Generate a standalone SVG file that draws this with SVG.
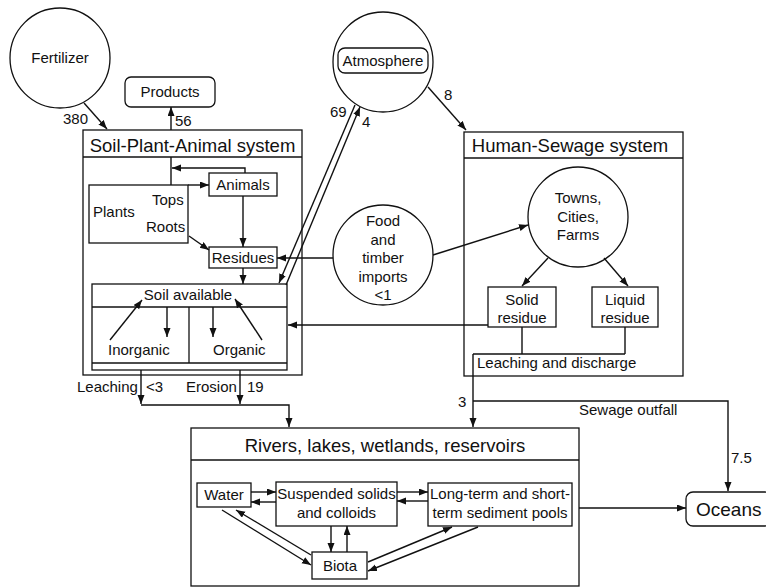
<svg xmlns="http://www.w3.org/2000/svg" width="766" height="588" viewBox="0 0 766 588">
<style>
.b{fill:none;stroke:#111;stroke-width:1.3}
.l{fill:none;stroke:#111;stroke-width:1.4}
.a{fill:none;stroke:#111;stroke-width:1.4;marker-end:url(#ah)}
text{font-family:"Liberation Sans",Arial,sans-serif;font-size:15px;fill:#111}
.t{font-size:18.5px}
.m{text-anchor:middle}
</style>
<defs>
<marker id="ah" markerUnits="userSpaceOnUse" markerWidth="10" markerHeight="8" refX="9" refY="3.5" orient="auto">
<path d="M0,0 L9,3.5 L0,7 z" fill="#111"/>
</marker>
</defs>
<rect width="766" height="588" fill="#fff"/>

<g id="fertilizer">
<circle class="b" cx="60" cy="58" r="50"/>
<text class="m" x="60" y="63">Fertilizer</text>
</g>
<g id="products">
<rect class="b" x="125" y="77" width="90" height="30" rx="6"/>
<text class="m" x="170" y="97">Products</text>
</g>
<g id="atmosphere">
<circle class="b" cx="383" cy="62" r="50"/>
<rect class="b" x="338" y="48" width="90" height="25" rx="7"/>
<text class="m" x="383" y="66">Atmosphere</text>
</g>
<g id="soil-plant-animal">
<rect class="b" x="83" y="130" width="219" height="245"/>
<line class="b" x1="83" y1="157" x2="302" y2="157"/>
<text class="m t" x="192.5" y="152">Soil-Plant-Animal system</text>
</g>
<g id="plants">
<rect class="b" x="89" y="185" width="99" height="58"/>
<text x="93" y="217">Plants</text>
<text x="152" y="205">Tops</text>
<text x="146" y="232">Roots</text>
</g>
<g id="animals">
<rect class="b" x="209" y="173" width="68" height="23"/>
<text class="m" x="243" y="190">Animals</text>
</g>
<g id="residues">
<rect class="b" x="209" y="247" width="68" height="21"/>
<text class="m" x="243" y="263">Residues</text>
</g>
<g id="soil-available">
<rect class="b" x="92" y="284" width="195" height="86"/>
<line class="b" x1="92" y1="307" x2="287" y2="307"/>
<line class="b" x1="189" y1="307" x2="189" y2="363"/>
<line class="b" x1="92" y1="363" x2="287" y2="363"/>
<text class="m" x="188" y="300">Soil available</text>
<text x="108" y="355">Inorganic</text>
<text x="213" y="355">Organic</text>
</g>
<g id="food">
<circle class="b" cx="383" cy="255" r="50"/>
<text class="m" x="383" y="226">Food</text>
<text class="m" x="383" y="245">and</text>
<text class="m" x="383" y="263">timber</text>
<text class="m" x="383" y="282">imports</text>
<text class="m" x="383" y="300">&lt;1</text>
</g>
<g id="human-sewage">
<rect class="b" x="464" y="132" width="219" height="244"/>
<line class="b" x1="464" y1="158" x2="683" y2="158"/>
<text class="m t" x="570" y="152">Human-Sewage system</text>
</g>
<g id="towns">
<circle class="b" cx="578" cy="217" r="50"/>
<text class="m" x="578" y="203">Towns,</text>
<text class="m" x="578" y="222">Cities,</text>
<text class="m" x="578" y="240">Farms</text>
</g>
<g id="solid-residue">
<rect class="b" x="488" y="287" width="68" height="40"/>
<text class="m" x="522" y="305">Solid</text>
<text class="m" x="522" y="323">residue</text>
</g>
<g id="liquid-residue">
<rect class="b" x="592" y="287" width="66" height="40"/>
<text class="m" x="625" y="305">Liquid</text>
<text class="m" x="625" y="323">residue</text>
</g>
<g id="rivers">
<rect class="b" x="191" y="428" width="388" height="158"/>
<line class="b" x1="191" y1="460" x2="579" y2="460"/>
<text class="m t" x="385" y="452">Rivers, lakes, wetlands, reservoirs</text>
</g>
<g id="water">
<rect class="b" x="197" y="483" width="54" height="24"/>
<text class="m" x="224" y="500">Water</text>
</g>
<g id="suspended">
<rect class="b" x="276" y="482" width="121" height="44"/>
<text class="m" x="336.5" y="499">Suspended solids</text>
<text class="m" x="336.5" y="518">and colloids</text>
</g>
<g id="sediment">
<rect class="b" x="428" y="483" width="144" height="43"/>
<text class="m" x="500" y="499">Long-term and short-</text>
<text class="m" x="500" y="518">term sediment pools</text>
</g>
<g id="biota">
<rect class="b" x="312" y="552" width="55" height="27"/>
<text class="m" x="340" y="571">Biota</text>
</g>
<g id="oceans">
<rect class="b" x="686" y="492" width="86" height="34" rx="7"/>
<text x="696" y="516" style="font-size:19px">Oceans</text>
</g>

<g id="connectors">
<line class="a" x1="84" y1="103" x2="107" y2="129"/>
<line class="a" x1="171" y1="130" x2="171" y2="107"/>
<line class="l" x1="171" y1="157" x2="171" y2="185"/>
<path class="a" d="M245,173 V168 H172"/>
<line class="a" x1="188" y1="185" x2="209" y2="185"/>
<line class="a" x1="243" y1="196" x2="243" y2="247"/>
<line class="a" x1="189" y1="236" x2="209" y2="250"/>
<line class="a" x1="243" y1="268" x2="243" y2="284"/>
<line class="a" x1="110" y1="340" x2="142" y2="300"/>
<line class="a" x1="167" y1="307" x2="167" y2="337"/>
<line class="a" x1="213" y1="307" x2="213" y2="337"/>
<line class="a" x1="262" y1="340" x2="235" y2="299"/>
<line class="a" x1="355" y1="105" x2="279" y2="283"/>
<line class="a" x1="286" y1="285" x2="360" y2="107"/>
<line class="a" x1="428" y1="87" x2="466" y2="130"/>
<line class="a" x1="333" y1="258" x2="277" y2="258"/>
<line class="a" x1="433" y1="255" x2="528" y2="225"/>
<line class="a" x1="548" y1="258" x2="522" y2="286"/>
<line class="a" x1="604" y1="258" x2="628" y2="286"/>
<line class="a" x1="488" y1="325" x2="288" y2="325"/>
<path class="l" d="M522,327 V354 M625,327 V354 M473,354 H625"/>
<line class="a" x1="473" y1="354" x2="473" y2="427"/>
<path class="a" d="M473,401 H728 V491"/>
<line class="a" x1="141" y1="370" x2="141" y2="404"/>
<line class="a" x1="240" y1="370" x2="240" y2="404"/>
<path class="a" d="M141,405 H289 V427"/>
<line class="a" x1="579" y1="508" x2="686" y2="508"/>
<line class="a" x1="251" y1="492" x2="276" y2="492"/>
<line class="a" x1="276" y1="502" x2="251" y2="502"/>
<line class="a" x1="397" y1="492" x2="428" y2="492"/>
<line class="a" x1="428" y1="501" x2="397" y2="501"/>
<line class="a" x1="222" y1="510" x2="311" y2="565"/>
<line class="a" x1="311" y1="555" x2="236" y2="510"/>
<line class="a" x1="331" y1="526" x2="331" y2="552"/>
<line class="a" x1="347" y1="552" x2="347" y2="526"/>
<line class="a" x1="368" y1="562" x2="452" y2="527"/>
<line class="a" x1="478" y1="527" x2="368" y2="571"/>
</g>

<g id="labels">
<text x="63" y="124">380</text>
<text x="175" y="126">56</text>
<text x="330" y="117">69</text>
<text x="362" y="127">4</text>
<text x="444" y="100">8</text>
<text x="477" y="368">Leaching and discharge</text>
<text x="458" y="407">3</text>
<text x="579" y="415">Sewage outfall</text>
<text x="731" y="463">7.5</text>
<text x="77" y="392">Leaching</text>
<text x="146" y="392">&lt;3</text>
<text x="186" y="392">Erosion</text>
<text x="247" y="392">19</text>
</g>
</svg>
